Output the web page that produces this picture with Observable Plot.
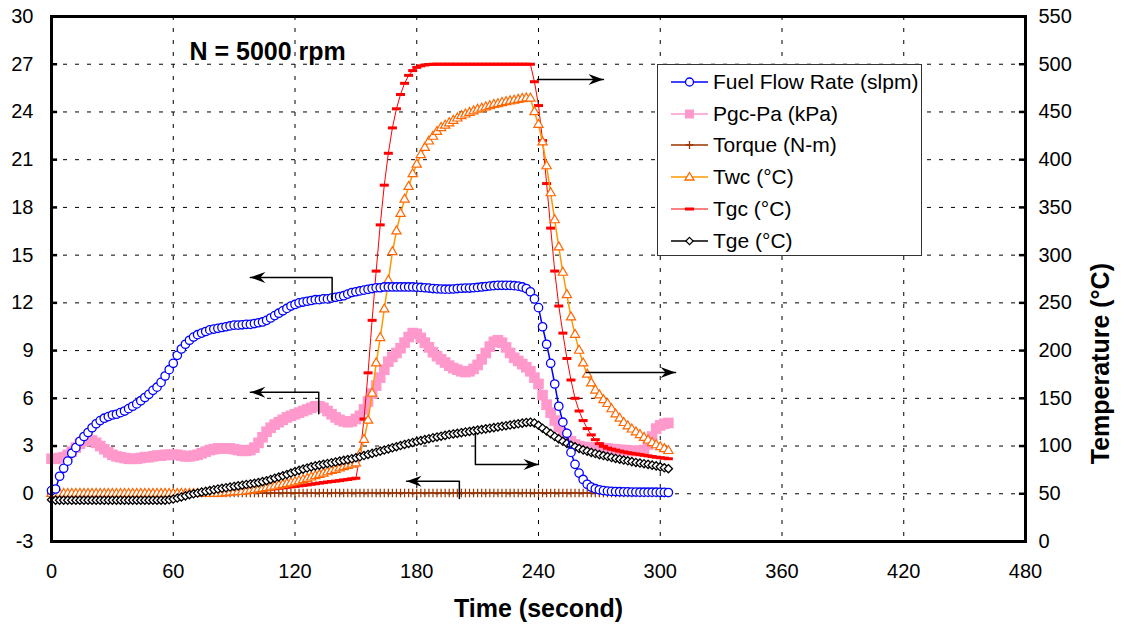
<!DOCTYPE html>
<html><head><meta charset="utf-8">
<script src="https://cdn.jsdelivr.net/npm/d3@7"></script>
<script src="https://cdn.jsdelivr.net/npm/@observablehq/plot@0.6"></script>
<style>
html,body{margin:0;padding:0;background:#fff;}
#wrap{position:relative;width:1121px;height:633px;font-family:"Liberation Sans",Arial,sans-serif;}
#legend{position:absolute;left:657px;top:64px;width:265px;height:192px;background:#fff;border:1.5px solid #333;box-sizing:border-box;}
.row{position:absolute;left:0;height:30px;display:flex;align-items:center;font-size:21px;white-space:nowrap;color:#000;}
.row svg{margin-left:13px;margin-right:5px;overflow:visible;}
</style></head><body><div id="wrap"><div id="chart"></div><div id="legend"></div></div>
<script>
// ---- data ----
const time = [0,2,4,6,8,10,12,14,16,18,20,22,24,26,28,30,32,34,36,38,40,42,44,46,48,50,52,54,56,58,60,62,64,66,68,70,72,74,76,78,80,82,84,86,88,90,92,94,96,98,100,102,104,106,108,110,112,114,116,118,120,122,124,126,128,130,132,134,136,138,140,142,144,146,148,150,152,154,156,158,160,162,164,166,168,170,172,174,176,178,180,182,184,186,188,190,192,194,196,198,200,202,204,206,208,210,212,214,216,218,220,222,224,226,228,230,232,234,236,238,240,242,244,246,248,250,252,254,256,258,260,262,264,266,268,270,272,274,276,278,280,282,284,286,288,290,292,294,296,298,300,302,304];

// Fuel Flow Rate (slpm), left axis
const fuelFlow = [0.2,0.3,1.1,1.6,2.05,2.55,2.9,3.3,3.6,3.85,
4.15,4.4,4.6,4.75,4.85,4.95,5.0,5.1,5.2,5.35,
5.5,5.65,5.85,6.05,6.25,6.5,6.7,7.0,7.4,7.8,
8.2,8.7,9.1,9.4,9.65,9.85,10.0,10.1,10.2,10.3,
10.35,10.4,10.45,10.5,10.55,10.6,10.6,10.62,10.65,10.65,
10.7,10.75,10.8,10.9,11.05,11.2,11.35,11.5,11.65,11.8,
11.9,12.0,12.05,12.1,12.15,12.2,12.2,12.25,12.25,12.3,
12.35,12.4,12.45,12.55,12.65,12.7,12.75,12.8,12.85,12.9,
12.95,12.95,13.0,13.0,13.0,13.0,13.0,13.0,13.0,13.0,
12.98,12.97,12.95,12.93,12.9,12.88,12.87,12.86,12.86,12.87,
12.9,12.92,12.93,12.93,12.95,12.97,13.0,13.03,13.06,13.08,
13.1,13.1,13.1,13.1,13.08,13.05,13.0,12.9,12.7,12.25,
11.7,10.5,9.4,8.2,6.9,5.5,4.5,3.8,2.6,1.85,
1.3,0.9,0.6,0.42,0.32,0.25,0.2,0.17,0.15,0.14,
0.13,0.12,0.12,0.11,0.11,0.1,0.1,0.1,0.1,0.1,
0.09,0.09,0.08];

// Pgc-Pa (kPa), left axis
const pgcPa = [2.2,2.2,2.25,2.3,2.45,2.65,2.9,3.15,3.3,3.4,
3.35,3.2,3.0,2.8,2.6,2.45,2.35,2.3,2.25,2.2,
2.2,2.2,2.25,2.3,2.3,2.35,2.4,2.4,2.45,2.45,
2.45,2.45,2.4,2.35,2.35,2.4,2.45,2.55,2.65,2.75,
2.8,2.85,2.85,2.85,2.85,2.8,2.75,2.7,2.7,2.75,
2.9,3.2,3.55,3.9,4.15,4.35,4.5,4.65,4.8,4.9,
5.0,5.1,5.2,5.3,5.4,5.5,5.5,5.4,5.2,5.0,
4.8,4.65,4.55,4.5,4.55,4.7,4.9,5.3,5.8,6.3,
6.8,7.3,7.8,8.3,8.6,8.85,9.15,9.5,9.85,10.1,
10.05,9.8,9.5,9.2,8.9,8.65,8.45,8.25,8.05,7.9,
7.8,7.7,7.65,7.7,7.85,8.1,8.45,8.85,9.25,9.55,
9.65,9.5,9.2,8.85,8.55,8.35,8.15,7.95,7.7,7.3,
6.9,6.2,5.6,5.1,4.6,4.2,3.8,3.5,3.3,3.1,
3.0,2.95,2.9,2.9,2.9,2.9,2.85,2.85,2.8,2.8,
2.75,2.75,2.7,2.7,2.7,2.7,2.75,3.1,3.6,4.1,
4.3,4.4,4.45];

// Torque (N-m), left axis
const torque = [0.05,0.05,0.05,0.05,0.05,0.05,0.05,0.05,0.05,0.05,
0.05,0.05,0.05,0.05,0.05,0.05,0.05,0.05,0.05,0.05,
0.05,0.05,0.05,0.05,0.05,0.05,0.05,0.05,0.05,0.05,
0.05,0.05,0.05,0.05,0.05,0.05,0.05,0.05,0.05,0.05,
0.05,0.05,0.05,0.05,0.05,0.05,0.05,0.05,0.05,0.05,
0.05,0.05,0.05,0.05,0.05,0.05,0.05,0.05,0.05,0.05,
0.05,0.05,0.05,0.05,0.05,0.05,0.05,0.05,0.05,0.05,
0.05,0.05,0.05,0.05,0.05,0.05,0.05,0.05,0.05,0.05,
0.05,0.05,0.05,0.05,0.05,0.05,0.05,0.05,0.05,0.05,
0.05,0.05,0.05,0.05,0.05,0.05,0.05,0.05,0.05,0.05,
0.05,0.05,0.05,0.05,0.05,0.05,0.05,0.05,0.05,0.05,
0.05,0.05,0.05,0.05,0.05,0.05,0.05,0.05,0.05,0.05,
0.05,0.05,0.05,0.05,0.05,0.05,0.05,0.05,0.05,0.05,
0.05,0.05,0.05,0.05,0.05,0.05,0.05,0.05,0.05,0.05,
0.05,0.05,0.05,0.05,0.05,0.05,0.05,0.05,0.05,0.05,
0.05,0.05,0.05];

// Twc (°C), right axis
const twc = [50,50,50,50,50,50,50,50,50,50,
50,50,50,50,50,50,50,50,50,50,
50,50,50,50,50,50,50,50,50,50,
50,50,50,50,50,50,50,50,50,50,
50,50,50.3,50.8,51.3,51.7,52,52.3,52.7,53.3,
54,54.7,55.3,56.2,57,57.8,58.7,59.5,60.3,61.2,
62.2,63.3,64.5,65.8,67.2,68.7,70,71.3,72.7,74,
75.3,76.7,78,79.3,80.7,82,91.7,106.7,126.7,155,
186.7,213.3,243.3,273.3,303.3,325,343.3,358.3,371.7,385,
395,405,412.5,419.2,424.2,429.2,433.3,435.8,438.3,440.8,
443.3,445.8,447.5,449.2,450.8,452.5,453.7,455,456.2,457.5,
458.3,459.5,460.5,461.3,462,462.8,463.7,464.3,464.2,450,
436.7,418.3,393.3,365,336.7,308.3,281.7,258.3,235,216.7,
200,186.7,175,165.8,158.3,153.3,148.3,144.2,138.7,133.3,
128.8,124.3,120.8,117.5,114.5,111.7,108.7,106,103.3,101,
99,97,95];

// Tgc (°C), right axis
const tgc = [50,50,50,50,50,50,50,50,50,50,
50,50,50,50,50,50,50,50,50,50,
50,50,50,50,50,50,50,50,50,50,
50,50,50,50,50,50,50,50,50,50,
50,50.2,50.3,50.7,51,51.3,51.7,52,52.3,52.7,
53,53.3,53.8,54.3,54.8,55.3,55.8,56.3,56.8,57.3,
57.8,58.3,58.8,59.3,60,60.5,61.2,61.7,62.3,62.8,
63.3,63.8,64.5,65,65.7,66.3,90,128.3,176.7,231.7,
283.3,331.7,373.3,406.7,433.3,453.3,468.3,480,488.3,493.3,
496.7,498.3,499.2,499.7,500,500,500,500,500,500,
500,500,500,500,500,500,500,500,500,500,
500,500,500,500,500,500,500,500,500,481.7,
456.7,420,375,328.3,283.3,246.7,218.3,191.7,169.2,150,
136.7,126.7,118.3,111.7,106.7,102.5,99.7,97.8,96.7,95.7,
94.7,93.8,93,92.3,91.7,91,90.3,89.7,89,88.3,
87.8,87.3,86.7];

// Tge (°C), right axis
const tge = [43.7,43.3,43.3,43.3,43.3,43.3,43.3,43.3,43.3,43.3,
43.3,43.3,43.3,43.3,43.3,43.3,43.3,43.3,43.3,43.3,
43.3,43.3,43.3,43.3,43.3,43.3,43.3,43.3,43.3,43.7,
44.5,45.5,46.7,47.8,49,50,50.8,51.7,52.5,53.3,
54.2,55,55.7,56.3,57,57.7,58.3,59,59.7,60.3,
61,61.7,62.7,63.7,65,66.3,67.5,68.8,70.2,71.7,
73.2,74.5,75.8,77,78.2,79.2,80,80.8,81.7,82.5,
83.3,84.2,85,85.8,86.7,87.7,88.8,90,91.2,92.3,
93.5,94.7,95.8,97,98.2,99.3,100.5,101.7,102.7,103.7,
104.7,105.7,106.7,107.7,108.7,109.5,110.3,111.2,112,112.7,
113.3,114,114.7,115.3,116,116.7,117.3,118,118.7,119.3,
120,120.7,121.3,122,122.7,123.3,124,124.7,125,124.2,
121.7,118.7,115.8,113,110,107.5,105,102.8,100.8,99.2,
97.5,96,94.7,93.3,92.2,91,90,89,88,87,
86.2,85.3,84.5,83.7,82.8,82.2,81.5,80.8,80,79.2,
78.2,77.2,76.3];

// axis ticks
const xTicks = [0,60,120,180,240,300,360,420,480];
const yTicks = [-3,0,3,6,9,12,15,18,21,24,27,30];
const tempTicks = [0,50,100,150,200,250,300,350,400,450,500,550];

// arrow annotations (time, left-axis value); last point is the arrow tip
const arrowNotes = [
  {id:"fuel",   dir:"left",  pts:[[138.3,12.15],[138.3,13.6],[98,13.6]]},
  {id:"pgc",    dir:"left",  pts:[[131.7,5.03],[131.7,6.38],[98,6.38]]},
  {id:"torque", dir:"left",  pts:[[201,-0.3],[201,0.78],[175,0.78]]},
  {id:"tgc",    dir:"right", pts:[[239.5,26.04],[272,26.04]]},
  {id:"twc",    dir:"right", pts:[[263.6,7.62],[307.5,7.62]]},
  {id:"tge",    dir:"right", pts:[[208.9,3.79],[208.9,1.84],[240,1.84]]}
];

const legendItems = [
  {label:"Fuel Flow Rate (slpm)", key:"fuel"},
  {label:"Pgc-Pa (kPa)", key:"pgc"},
  {label:"Torque (N-m)", key:"torque"},
  {label:"Twc (°C)", key:"twc"},
  {label:"Tgc (°C)", key:"tgc"},
  {label:"Tge (°C)", key:"tge"}
];

// ---- build ----
const toLeft = T => T * 33 / 550 - 3;   // right axis (0..550 °C) onto left axis (-3..30)
const rows = time.map((t, i) => ({
  t, fuel: fuelFlow[i], pgc: pgcPa[i], torque: torque[i],
  twc: toLeft(twc[i]), tgc: toLeft(tgc[i]), tge: toLeft(tge[i])
}));

const dashSym = {draw(ctx){ctx.moveTo(-4.5,-1.5);ctx.lineTo(4.5,-1.5);ctx.lineTo(4.5,1.5);ctx.lineTo(-4.5,1.5);ctx.closePath();}};
const headRight = {draw(ctx){ctx.moveTo(0,0);ctx.lineTo(-15,-5.5);ctx.lineTo(-10,0);ctx.lineTo(-15,5.5);ctx.closePath();}};
const headLeft = {draw(ctx){ctx.moveTo(0,0);ctx.lineTo(15,-5.5);ctx.lineTo(10,0);ctx.lineTo(15,5.5);ctx.closePath();}};

const arrowRows = arrowNotes.flatMap(a => a.pts.map(([x, y]) => ({id: a.id, x, y})));
const tips = arrowNotes.map(a => ({dir: a.dir, x: a.pts[a.pts.length-1][0], y: a.pts[a.pts.length-1][1]}));

const grid = {stroke: "#000", strokeOpacity: 1, strokeWidth: 1, strokeDasharray: "4,8"};

const chart = Plot.plot({
  width: 1121, height: 633,
  marginTop: 16, marginRight: 96, marginBottom: 92, marginLeft: 51,
  style: {fontFamily: "'Liberation Sans', Arial, sans-serif", fontSize: "20px", background: "#fff", color: "#000", overflow: "visible"},
  x: {domain: [0, 480], axis: null},
  y: {domain: [-3, 30], axis: null},
  marks: [
    Plot.gridX(xTicks.slice(1, -1), grid),
    Plot.gridY(yTicks.slice(1, -1), grid),
    Plot.ruleY(yTicks, {y: d => d, x1: 0, x2: 3, stroke: "#000", strokeWidth: 2.5}),
    Plot.ruleY(yTicks, {y: d => d, x1: 477, x2: 480, stroke: "#000", strokeWidth: 2.5}),

    // Pgc-Pa
    Plot.line(rows, {x: "t", y: "pgc", stroke: "#ff99cc", strokeWidth: 1.5}),
    Plot.dot(rows, {x: "t", y: "pgc", symbol: "square", r: 6, fill: "#ff99cc", stroke: "none"}),
    // Torque
    Plot.line(rows, {x: "t", y: "torque", stroke: "#993300", strokeWidth: 1.5}),
    Plot.dot(rows, {x: "t", y: "torque", symbol: "plus", r: 2.9, stroke: "#993300", strokeWidth: 1.2, fill: "none"}),
    // Tgc
    Plot.line(rows, {x: "t", y: "tgc", stroke: "#ff0000", strokeWidth: 1}),
    Plot.dot(rows, {x: "t", y: "tgc", symbol: dashSym, fill: "#ff0000", stroke: "none"}),
    // Twc
    Plot.line(rows, {x: "t", y: "twc", stroke: "#ff9900", strokeWidth: 1.5}),
    Plot.dot(rows, {x: "t", y: "twc", symbol: "triangle2", r: 4.4, stroke: "#ff6600", strokeWidth: 1.2, fill: "#fff"}),
    // Tge
    Plot.line(rows, {x: "t", y: "tge", stroke: "#000", strokeWidth: 1.5}),
    Plot.dot(rows, {x: "t", y: "tge", symbol: "diamond2", r: 3.7, stroke: "#000", strokeWidth: 1.3, fill: "#fff"}),
    // Fuel flow
    Plot.line(rows, {x: "t", y: "fuel", stroke: "#0000ff", strokeWidth: 1.5}),
    Plot.dot(rows, {x: "t", y: "fuel", symbol: "circle", r: 4.2, stroke: "#0000ff", strokeWidth: 1.3, fill: "#fff"}),

    // arrows
    Plot.line(arrowRows, {x: "x", y: "y", z: "id", stroke: "#000", strokeWidth: 1.5}),
    Plot.dot(tips.filter(d => d.dir === "right"), {x: "x", y: "y", symbol: headRight, fill: "#000", stroke: "none"}),
    Plot.dot(tips.filter(d => d.dir === "left"), {x: "x", y: "y", symbol: headLeft, fill: "#000", stroke: "none"}),

    // tick labels
    Plot.text(xTicks, {x: d => d, text: d => String(d), frameAnchor: "bottom", dy: 36, fontSize: 20}),
    Plot.text(yTicks, {y: d => d, text: d => String(d), frameAnchor: "left", textAnchor: "end", dx: -18, fontSize: 20}),
    Plot.text(tempTicks, {y: d => toLeft(d), text: d => String(d), frameAnchor: "right", textAnchor: "start", dx: 13, fontSize: 20}),
    // titles
    Plot.text(["Time (second)"], {text: d => d, frameAnchor: "bottom", dy: 75, fontSize: 25, fontWeight: "bold"}),
    Plot.text(["Temperature (°C)"], {text: d => d, frameAnchor: "right", dx: 75, dy: -16, rotate: -90, fontSize: 25, fontWeight: "bold"}),
    Plot.text(["N = 5000 rpm"], {text: d => d, frameAnchor: "top-left", dx: 138, dy: 26, textAnchor: "start", fontSize: 25, fontWeight: "bold"}),

    Plot.frame({stroke: "#000", strokeWidth: 3})
  ]
});
document.getElementById("chart").appendChild(chart);

// legend
const swatch = {
  fuel:   '<line x1="0" y1="10" x2="37" y2="10" stroke="#0000ff" stroke-width="1.5"/><circle cx="18.5" cy="10" r="4" fill="#fff" stroke="#0000ff" stroke-width="1.3"/>',
  pgc:    '<line x1="0" y1="10" x2="37" y2="10" stroke="#ff99cc" stroke-width="1.5"/><rect x="14" y="5.5" width="9" height="9" fill="#ff99cc"/>',
  torque: '<line x1="0" y1="10" x2="37" y2="10" stroke="#993300" stroke-width="1.5"/><path d="M14.5,10h8M18.5,6v8" stroke="#993300" stroke-width="1.3"/>',
  twc:    '<line x1="0" y1="10" x2="37" y2="10" stroke="#ff9900" stroke-width="1.5"/><path d="M18.5,5.5L23,13L14,13Z" fill="#fff" stroke="#ff6600" stroke-width="1.3"/>',
  tgc:    '<line x1="0" y1="10" x2="37" y2="10" stroke="#ff0000" stroke-width="1"/><rect x="14" y="8.5" width="9" height="3" fill="#ff0000"/>',
  tge:    '<line x1="0" y1="10" x2="37" y2="10" stroke="#000" stroke-width="1.5"/><path d="M18.5,6.3L22.2,10L18.5,13.7L14.8,10Z" fill="#fff" stroke="#000" stroke-width="1.2"/>'
};
const legend = document.getElementById("legend");
legendItems.forEach((it, i) => {
  const row = document.createElement("div");
  row.className = "row";
  row.style.top = (2 + i * 31.7) + "px";
  row.innerHTML = `<svg width="37" height="20">${swatch[it.key]}</svg><span>${it.label}</span>`;
  legend.appendChild(row);
});
</script></body></html>
